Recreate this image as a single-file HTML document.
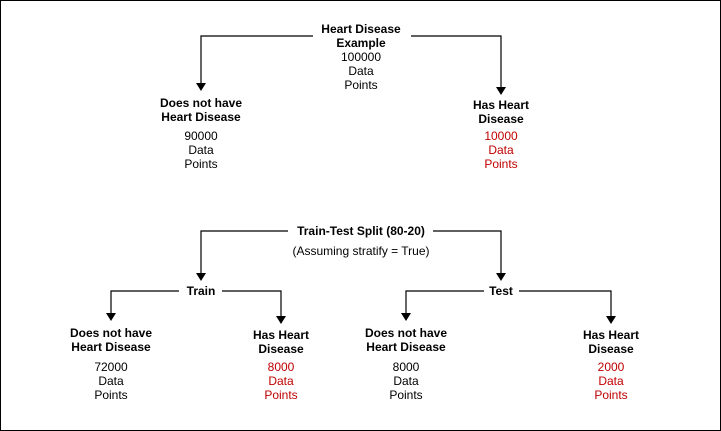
<!DOCTYPE html>
<html><head><style>
body{margin:0;background:#fff}
#c{position:relative;width:719px;height:429px;border:1px solid #000;overflow:hidden;font-family:"Liberation Sans",Arial,sans-serif;font-size:12px;line-height:14px}
.t{position:absolute;text-align:center;width:160px;margin-left:-80px;background:transparent}
.b{font-weight:bold}
.r{color:#c00000}
svg{position:absolute;left:0;top:0}
</style></head><body><div id="c">
<svg width="721" height="431">
<g stroke="#000" stroke-width="1.2" fill="none">
<path d="M312 35H200V84M410 35H500V88"/>
<path d="M287 230H200V274M432 230H500V274"/>
<path d="M178 290H110V314M221 290H280V317"/>
<path d="M483 290H405V314M518 290H610V317"/>
</g>
<g fill="#000">
<path d="M195 82L205 82L200 90Z"/><path d="M495 86L505 86L500 94Z"/>
<path d="M195 272L205 272L200 280Z"/><path d="M495 272L505 272L500 280Z"/>
<path d="M105 312L115 312L110 320Z"/><path d="M275 315L285 315L280 323Z"/>
<path d="M400 312L410 312L405 320Z"/><path d="M605 315L615 315L610 323Z"/>
</g>
</svg>
<div class="t b" style="left:360px;top:21px">Heart Disease<br>Example</div>
<div class="t" style="left:360px;top:49px">100000<br>Data<br>Points</div>
<div class="t b" style="left:200px;top:95px">Does not have<br>Heart Disease</div>
<div class="t" style="left:200px;top:128px">90000<br>Data<br>Points</div>
<div class="t b" style="left:500px;top:97px">Has Heart<br>Disease</div>
<div class="t r" style="left:500px;top:128px">10000<br>Data<br>Points</div>
<div class="t b" style="left:360px;top:223px">Train-Test Split (80-20)</div>
<div class="t" style="left:360px;top:243px;width:200px;margin-left:-100px">(Assuming stratify = True)</div>
<div class="t b" style="left:200px;top:283px">Train</div>
<div class="t b" style="left:500px;top:283px">Test</div>
<div class="t b" style="left:110px;top:325px">Does not have<br>Heart Disease</div>
<div class="t" style="left:110px;top:359px">72000<br>Data<br>Points</div>
<div class="t b" style="left:280px;top:327px">Has Heart<br>Disease</div>
<div class="t r" style="left:280px;top:359px">8000<br>Data<br>Points</div>
<div class="t b" style="left:405px;top:325px">Does not have<br>Heart Disease</div>
<div class="t" style="left:405px;top:359px">8000<br>Data<br>Points</div>
<div class="t b" style="left:610px;top:327px">Has Heart<br>Disease</div>
<div class="t r" style="left:610px;top:359px">2000<br>Data<br>Points</div>
</div></body></html>
